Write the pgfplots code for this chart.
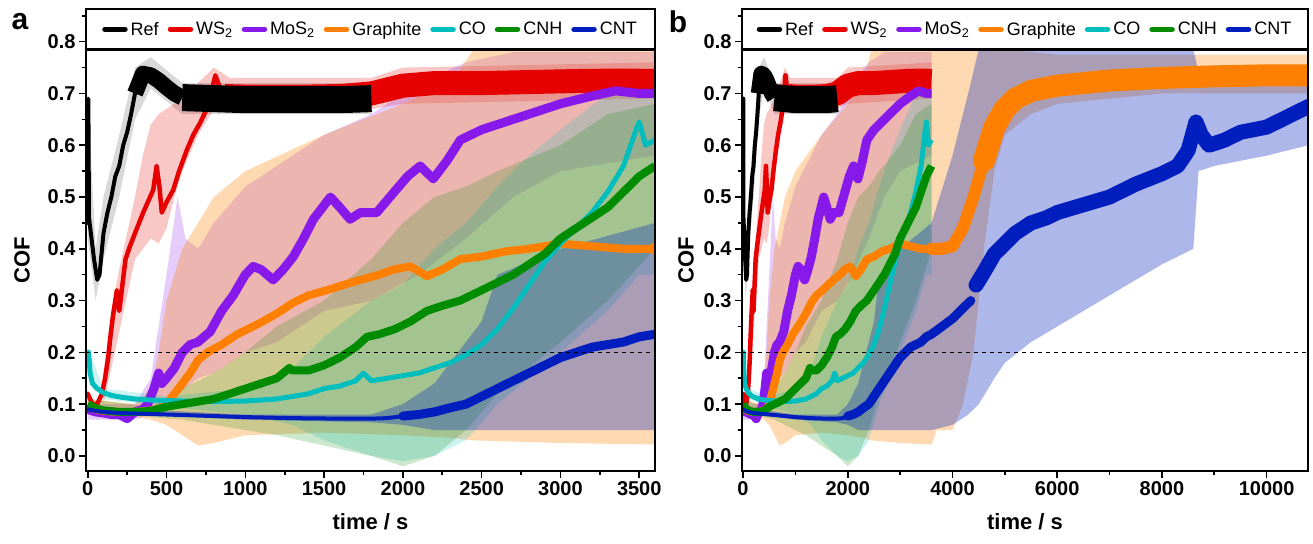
\documentclass[border=0pt]{standalone}
\usepackage{fontspec}
\setmainfont{Liberation Sans}
\usepackage{pgfplots}
\pgfplotsset{compat=1.18}
\usepackage{pgfplotstable}
\usepgfplotslibrary{fillbetween}

\definecolor{refc}{RGB}{0,0,0}
\definecolor{ws2c}{RGB}{230,0,0}
\definecolor{mos2c}{RGB}{135,25,235}
\definecolor{grac}{RGB}{255,128,0}
\definecolor{coc}{RGB}{0,190,190}
\definecolor{cnhc}{RGB}{0,140,0}
\definecolor{cntc}{RGB}{0,30,190}

% ---------- mean traces ----------
\pgfplotstableread{
t y
0 0.45
4 0.69
8 0.46
20 0.43
40 0.38
60 0.34
75 0.35
100 0.43
125 0.47
150 0.50
175 0.54
200 0.56
225 0.60
250 0.625
275 0.66
300 0.70
350 0.738
400 0.735
450 0.725
500 0.712
550 0.70
600 0.692
800 0.69
1000 0.688
1200 0.688
1400 0.688
1600 0.688
1800 0.69
}\refdata

\pgfplotstableread{
t y
0 0.12
30 0.10
60 0.10
90 0.12
110 0.15
130 0.19
142 0.225
160 0.27
175 0.30
185 0.32
200 0.28
220 0.33
240 0.38
268 0.405
300 0.43
352 0.47
416 0.514
437 0.56
455 0.52
470 0.47
500 0.49
543 0.514
580 0.55
628 0.59
670 0.62
713 0.643
755 0.67
790 0.71
810 0.735
840 0.71
870 0.695
1000 0.694
1200 0.694
1400 0.694
1600 0.695
1800 0.70
2000 0.715
2200 0.72
2500 0.72
2800 0.722
3100 0.724
3400 0.725
3600 0.724
}\wsdata

\pgfplotstableread{
t y
0 0.09
50 0.085
100 0.083
150 0.08
200 0.08
250 0.072
300 0.085
350 0.09
380 0.10
420 0.13
450 0.16
470 0.14
500 0.15
550 0.17
600 0.20
650 0.215
700 0.22
777 0.24
850 0.28
923 0.31
1000 0.35
1050 0.366
1100 0.36
1177 0.34
1240 0.36
1305 0.385
1370 0.42
1432 0.457
1490 0.48
1540 0.50
1600 0.48
1665 0.457
1730 0.47
1834 0.47
1940 0.508
2030 0.54
2110 0.56
2193 0.535
2280 0.57
2364 0.61
2500 0.63
2650 0.645
2800 0.66
3000 0.68
3200 0.695
3350 0.705
3500 0.70
3600 0.70
}\mosdata

\pgfplotstableread{
t y
0 0.095
50 0.09
100 0.087
200 0.085
300 0.085
400 0.088
450 0.09
500 0.10
550 0.12
600 0.14
650 0.16
700 0.185
760 0.20
850 0.215
950 0.235
1095 0.257
1200 0.275
1305 0.296
1400 0.31
1517 0.32
1620 0.33
1730 0.34
1850 0.35
1940 0.36
2047 0.366
2153 0.347
2250 0.36
2364 0.38
2500 0.385
2650 0.395
2800 0.40
3000 0.41
3200 0.405
3400 0.40
3600 0.40
3800 0.40
4000 0.405
4200 0.44
4400 0.50
4600 0.57
4800 0.635
5000 0.67
5200 0.69
5500 0.705
6000 0.715
7000 0.725
8000 0.73
9000 0.733
10000 0.735
10800 0.735
}\gradata

\pgfplotstableread{
t y
0 0.19
5 0.20
15 0.16
30 0.14
60 0.13
100 0.122
150 0.117
200 0.114
300 0.11
400 0.108
600 0.106
800 0.105
1000 0.106
1100 0.108
1200 0.11
1300 0.115
1400 0.12
1500 0.13
1600 0.135
1700 0.145
1750 0.16
1800 0.145
1900 0.15
2000 0.155
2100 0.16
2200 0.17
2300 0.18
2400 0.195
2500 0.215
2600 0.245
2700 0.285
2800 0.33
2900 0.375
3000 0.41
3100 0.44
3200 0.47
3300 0.51
3400 0.56
3480 0.63
3500 0.645
3540 0.60
3600 0.61
}\codata

\pgfplotstableread{
t y
0 0.10
50 0.092
100 0.088
200 0.085
300 0.085
400 0.087
500 0.095
600 0.10
700 0.105
800 0.11
900 0.12
1000 0.13
1100 0.14
1200 0.15
1280 0.17
1300 0.165
1400 0.165
1500 0.175
1600 0.19
1700 0.21
1772 0.23
1850 0.235
1950 0.245
2050 0.26
2152 0.28
2250 0.29
2364 0.30
2500 0.32
2600 0.335
2700 0.35
2800 0.37
2900 0.39
3000 0.42
3100 0.44
3200 0.46
3300 0.48
3400 0.51
3500 0.54
3600 0.56
}\cnhdata

\pgfplotstableread{
t y
0 0.09
50 0.087
100 0.085
200 0.083
300 0.082
500 0.08
700 0.078
1000 0.075
1300 0.073
1600 0.072
1800 0.072
1900 0.073
2000 0.077
2100 0.08
2200 0.085
2300 0.093
2400 0.10
2500 0.115
2600 0.13
2700 0.145
2800 0.16
2900 0.175
3000 0.19
3100 0.20
3200 0.21
3300 0.215
3400 0.22
3500 0.23
3600 0.235
3800 0.25
4000 0.265
4200 0.285
4350 0.30
4450 0.33
4600 0.355
4800 0.39
5000 0.41
5200 0.43
5500 0.45
5800 0.46
6000 0.47
6500 0.485
7000 0.50
7500 0.525
8000 0.545
8300 0.56
8500 0.59
8650 0.645
8750 0.62
8900 0.60
9200 0.61
9500 0.625
10000 0.635
10300 0.65
10800 0.675
}\cntdata

% ---------- standard deviation bands ----------
\pgfplotstableread{
t lo hi
0 0.42 0.70
50 0.30 0.40
100 0.38 0.50
200 0.50 0.62
300 0.65 0.75
400 0.71 0.77
600 0.66 0.72
1800 0.66 0.72
}\refband

\pgfplotstableread{
t lo hi
100 0.10 0.16
150 0.17 0.28
200 0.24 0.36
300 0.38 0.50
350 0.40 0.58
400 0.42 0.64
450 0.41 0.66
500 0.44 0.67
550 0.50 0.68
600 0.55 0.69
700 0.62 0.72
800 0.67 0.75
900 0.67 0.73
1800 0.67 0.73
2000 0.68 0.75
3600 0.69 0.76
}\wsband

\pgfplotstableread{
t lo hi
0 0.07 0.10
300 0.07 0.10
400 0.08 0.15
500 0.10 0.35
570 0.12 0.50
620 0.13 0.42
700 0.15 0.40
800 0.16 0.45
1000 0.20 0.52
1200 0.22 0.56
1500 0.28 0.62
1800 0.30 0.66
2100 0.35 0.72
2400 0.42 0.76
2700 0.50 0.78
3000 0.55 0.78
3600 0.58 0.78
}\mosband

\pgfplotstableread{
t lo hi
0 0.08 0.11
300 0.075 0.10
400 0.07 0.13
450 0.065 0.20
500 0.06 0.30
600 0.04 0.40
700 0.02 0.45
800 0.025 0.50
1000 0.04 0.55
1500 0.045 0.62
2000 0.04 0.68
2300 0.035 0.72
2450 0.03 0.785
3000 0.025 0.785
3600 0.022 0.785
3700 0.05 0.785
4000 0.05 0.785
4200 0.10 0.785
4400 0.20 0.785
4600 0.40 0.785
4800 0.55 0.785
5000 0.62 0.785
5500 0.66 0.78
6000 0.68 0.775
8000 0.70 0.775
10800 0.70 0.775
}\graband

\pgfplotstableread{
t lo hi
0 0.17 0.21
100 0.11 0.13
500 0.095 0.115
1000 0.08 0.13
1300 0.06 0.17
1500 0.03 0.23
1800 0.00 0.30
2000 -0.01 0.33
2200 0.0 0.40
2400 0.03 0.45
2600 0.10 0.52
2800 0.15 0.58
3000 0.20 0.63
3300 0.28 0.70
3500 0.35 0.75
3600 0.35 0.72
}\coband

\pgfplotstableread{
t lo hi
0 0.09 0.11
400 0.075 0.095
600 0.07 0.13
800 0.06 0.16
1000 0.05 0.20
1200 0.04 0.25
1500 0.02 0.30
1800 0.0 0.38
2000 -0.02 0.45
2200 0.0 0.50
2400 0.05 0.52
2600 0.12 0.55
3000 0.22 0.60
3300 0.30 0.66
3600 0.40 0.68
}\cnhband

\pgfplotstableread{
t lo hi
0 0.085 0.095
1000 0.07 0.08
1800 0.065 0.08
2000 0.06 0.10
2200 0.05 0.14
2500 0.05 0.26
2600 0.05 0.35
3000 0.05 0.40
3600 0.05 0.45
4000 0.06 0.58
4300 0.08 0.70
4500 0.10 0.785
4800 0.15 0.785
5000 0.18 0.785
5500 0.22 0.785
6000 0.25 0.785
7000 0.31 0.785
8000 0.37 0.785
8600 0.40 0.785
8700 0.55 0.74
9000 0.56 0.72
10000 0.58 0.72
10800 0.60 0.73
}\cntband

\newcommand{\band}[4]{%
  \addplot[draw=none, forget plot, name path=hi#4] table[x=t,y=hi]{#1};
  \addplot[draw=none, forget plot, name path=lo#4] table[x=t,y=lo]{#1};
  \addplot[fill=#2, fill opacity=#3, draw=none, forget plot] fill between[of=hi#4 and lo#4];
}
\newcommand{\seg}[5]{%
  \addplot[#2, line width=#4, line join=round, line cap=#5, forget plot, restrict x to domain=#3] table[x=t,y=y]{#1};
}

\newcommand{\allplots}[1]{%
  \addlegendimage{refc}\addlegendentry{Ref}
  \addlegendimage{ws2c}\addlegendentry{WS\textsubscript{2}}
  \addlegendimage{mos2c}\addlegendentry{MoS\textsubscript{2}}
  \addlegendimage{grac}\addlegendentry{Graphite}
  \addlegendimage{coc}\addlegendentry{CO}
  \addlegendimage{cnhc}\addlegendentry{CNH}
  \addlegendimage{cntc}\addlegendentry{CNT}
  % lines
  \seg{\wsdata}{ws2c}{0:870}{4.5pt}{round}
  \seg{\wsdata}{ws2c}{870:3600}{24pt}{butt}
  \seg{\refdata}{refc}{0:300}{4pt}{round}
  \seg{\refdata}{refc}{300:600}{16pt}{butt}
  \seg{\refdata}{refc}{600:1800}{27pt}{butt}
  \seg{\mosdata}{mos2c}{0:3600}{9pt}{butt}
  \seg{\gradata}{grac}{0:3600}{8pt}{butt}
  \seg{\gradata}{grac}{3600:4600}{12pt}{round}
  \seg{\gradata}{grac}{4600:10800}{22pt}{round}
  \seg{\codata}{coc}{0:3600}{5pt}{butt}
  \seg{\cnhdata}{cnhc}{0:3600}{8pt}{butt}
  \seg{\cntdata}{cntc}{0:2000}{4pt}{round}
  \seg{\cntdata}{cntc}{2000:4400}{9pt}{round}
  \seg{\cntdata}{cntc}{4400:10800}{15pt}{round}
  % bands
  \band{\refband}{black}{0.15}{r#1}
  \band{\wsband}{ws2c}{0.22}{w#1}
  \band{\mosband}{mos2c}{0.22}{m#1}
  \band{\graband}{grac}{0.3}{g#1}
  \band{\coband}{coc}{0.2}{c#1}
  \band{\cnhband}{cnhc}{0.2}{h#1}
  \band{\cntband}{cntc}{0.32}{n#1}
}

\pgfplotsset{
  cofstyle/.style={
    scale only axis, height=461.4pt,
    ymin=-0.0285, ymax=0.8625,
    ytick={0,0.1,0.2,0.3,0.4,0.5,0.6,0.7,0.8},
    minor ytick={0.05,0.15,0.25,0.35,0.45,0.55,0.65,0.75,0.85},
    tick align=outside, axis on top,
    xtick pos=left, ytick pos=left,
    major tick length=7pt, minor tick length=4pt,
    every tick/.style={black, line width=1.6pt},
    axis line style={line width=2.2pt},
    every outer x axis line/.append style={line width=2.2pt},
    every outer y axis line/.append style={line width=2.2pt},
    tick label style={font=\fontsize{20}{22}\selectfont\bfseries},
    /pgf/number format/assume math mode=true,
    /pgf/number format/1000 sep={},
    scaled x ticks=false,
    yticklabel style={/pgf/number format/fixed,/pgf/number format/fixed zerofill,/pgf/number format/precision=1},
    xlabel={time / s}, ylabel={COF},
    label style={font=\fontsize{22}{24}\selectfont\bfseries},
    x label style={at={(axis description cs:0.5,-0.1105)},anchor=center},
    legend columns=7,
    legend style={at={(rel axis cs:0.5,0.9565)}, anchor=center, draw=none, fill=none,
      font=\fontsize{18}{20}\selectfont, inner sep=0pt,
      /tikz/every odd column/.append style={column sep=1pt},
      /tikz/every even column/.append style={column sep=7pt}},
    legend image code/.code={\draw[##1, line width=5.5pt, line cap=round] (0pt,0pt) -- (20pt,0pt);},
  }
}

\begin{document}
\begin{tikzpicture}
\begin{axis}[cofstyle, at={(0pt,0pt)}, anchor=south west, width=569pt,
  xmin=-11, xmax=3600,
  xtick={0,500,1000,1500,2000,2500,3000,3500}, minor x tick num=1,
  y label style={at={(axis description cs:-0.1125,0.457)},anchor=center}]
\allplots{a}
\addplot[black, line width=1.2pt, dash pattern=on 4pt off 4pt, forget plot] coordinates {(-11,0.2) (3600,0.2)};
\fill[white] (rel axis cs:0,0.91302) rectangle (rel axis cs:1,1);
\draw[line width=2.2pt] (rel axis cs:0,0.91302) -- (rel axis cs:1,0.91302);
\end{axis}
\begin{axis}[cofstyle, at={(656pt,0pt)}, anchor=south west, width=566pt,
  xmin=-20, xmax=10790,
  xtick={0,2000,4000,6000,8000,10000}, minor x tick num=1,
  y label style={at={(axis description cs:-0.099,0.457)},anchor=center}]
\allplots{b}
\addplot[black, line width=1.2pt, dash pattern=on 4pt off 4pt, forget plot] coordinates {(-20,0.2) (10790,0.2)};
\fill[white] (rel axis cs:0,0.91302) rectangle (rel axis cs:1,1);
\draw[line width=2.2pt] (rel axis cs:0,0.91302) -- (rel axis cs:1,0.91302);
\end{axis}
\node[font=\fontsize{30}{32}\selectfont\bfseries] at (-66pt,448.7pt) {a};
\node[font=\fontsize{30}{32}\selectfont\bfseries] at (592pt,448.7pt) {b};
\pgfresetboundingbox
\useasboundingbox (-86pt,-72.3pt) rectangle (1227pt,470.7pt);
\end{tikzpicture}
\end{document}
